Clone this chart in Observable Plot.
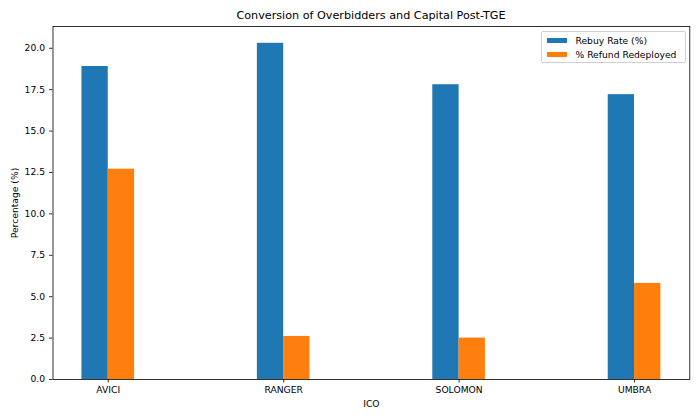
<!DOCTYPE html>
<html>
<head>
<meta charset="utf-8">
<script src="https://cdn.jsdelivr.net/npm/d3@7"></script>
<script src="https://cdn.jsdelivr.net/npm/@observablehq/plot@0.6"></script>
<style>
  html, body { margin: 0; padding: 0; background: #fff; }
  #wrap { position: relative; width: 700px; height: 420px; font-family: "DejaVu Sans", sans-serif; color: #000; }
  #title { position: absolute; top: 9px; left: 52.5px; width: 637px; text-align: center; font-size: 11.2px; line-height: 13px; white-space: nowrap; }
  #legend { position: absolute; left: 541px; top: 31px; width: 145px; height: 32px; border: 0.8px solid #d0d0d0; border-radius: 2px; background: rgba(255,255,255,0.8); font-size: 9.2px; box-sizing: border-box; }
  .row { position: absolute; left: 5px; height: 11px; display: flex; align-items: center; white-space: nowrap; }
  .sw { width: 19.5px; height: 5px; margin-right: 9px; }
</style>
</head>
<body>
<div id="wrap">
  <div id="chart"></div>
  <div id="title">Conversion of Overbidders and Capital Post-TGE</div>
  <div id="legend"></div>
</div>
<script>
const icos = ["AVICI", "RANGER", "SOLOMON", "UMBRA"];
const rebuyRate = [18.9, 20.3, 17.8, 17.2];
const refundRedeployed = [12.7, 2.6, 2.5, 5.8];
const seriesNames = ["Rebuy Rate (%)", "% Refund Redeployed"];
const seriesColors = ["#1f77b4", "#ff7f0e"];
const yTicks = [0, 2.5, 5, 7.5, 10, 12.5, 15, 17.5, 20];

const seriesValues = [rebuyRate, refundRedeployed];
const data = icos.flatMap((ico, i) =>
  seriesValues.map((vals, s) => ({ico, i, s, series: seriesNames[s], value: vals[i]}))
);

const barW = 0.15;
const maxV = d3.max(data, d => d.value);

const chart = Plot.plot({
  width: 700,
  height: 420,
  marginLeft: 52.5,
  marginRight: 10.7,
  marginTop: 26,
  marginBottom: 41,
  style: {fontFamily: "DejaVu Sans", fontSize: "9.2px", color: "#000", background: "#fff"},
  x: {domain: [-0.315, 3.315]},
  y: {domain: [0, maxV * 1.05]},
  color: {domain: seriesNames, range: seriesColors},
  marks: [
    Plot.rect(data, {
      x1: d => d.i + (d.s - 1) * barW,
      x2: d => d.i + d.s * barW,
      y1: 0,
      y2: "value",
      fill: "series"
    }),
    Plot.axisX({
      ticks: icos.map((_, i) => i),
      tickFormat: i => icos[i],
      tickSize: 3.5,
      tickPadding: 3,
      strokeWidth: 0.8,
      label: "ICO",
      labelAnchor: "center",
      labelArrow: "none",
      labelOffset: 27
    }),
    Plot.axisY({
      ticks: yTicks,
      tickFormat: d3.format(".1f"),
      tickSize: 3.5,
      tickPadding: 4.5,
      strokeWidth: 0.8,
      label: "Percentage (%)",
      labelAnchor: "center",
      labelArrow: "none",
      labelOffset: 42
    }),
    Plot.frame({stroke: "#000", strokeWidth: 0.8})
  ]
});
document.getElementById("chart").appendChild(chart);

const legend = d3.select("#legend");
seriesNames.forEach((name, k) => {
  const row = legend.append("div").attr("class", "row").style("top", (2.5 + k * 14.7) + "px");
  row.append("div").attr("class", "sw").style("background", seriesColors[k]);
  row.append("span").text(name);
});
</script>
</body>
</html>
